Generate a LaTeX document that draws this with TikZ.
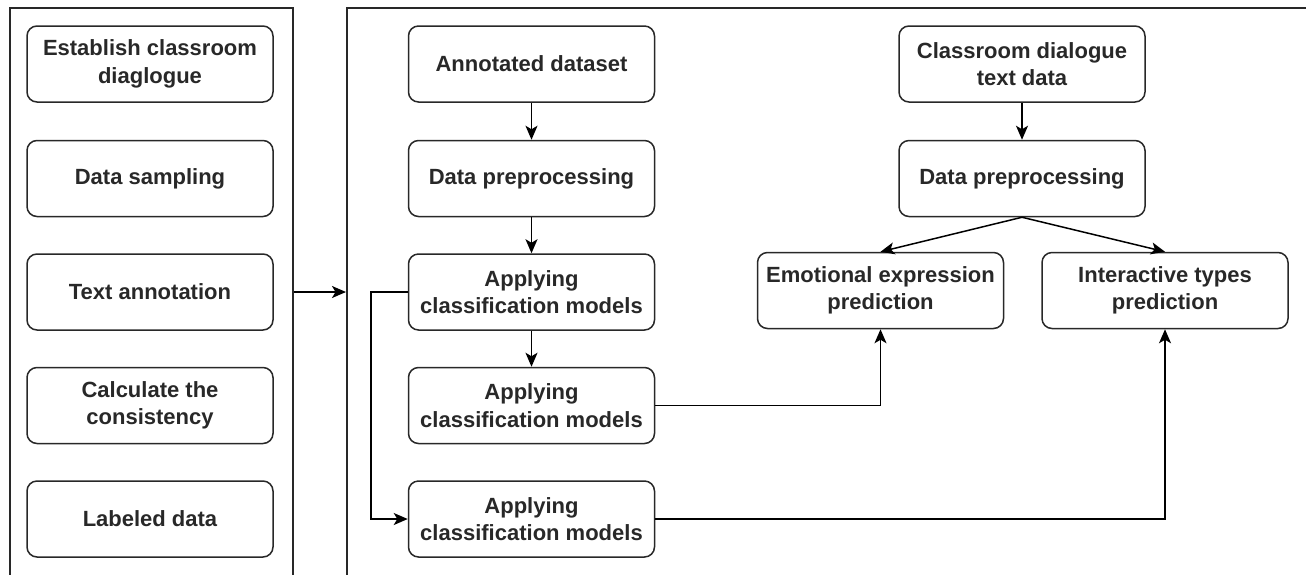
\documentclass[tikz,border=0pt]{standalone}
\usepackage{fontspec}
\setmainfont{Liberation Sans}
\usetikzlibrary{arrows.meta, positioning}

\definecolor{inkgray}{RGB}{40,40,40}
\hyphenpenalty=10000
\exhyphenpenalty=10000

\begin{document}
\begin{tikzpicture}[x=1pt, y=-1pt,
        step_box/.style = {
            rectangle,
            draw=inkgray,
            line width=1.5pt,
            rounded corners=10pt,
            text=inkgray,
            text width = 232pt,
            align = flush center,
            inner sep = 0pt,
            minimum width = 246pt,
            minimum height = 76pt,
            font = \fontsize{22}{27.5}\selectfont\bfseries
        },
        panel/.style = {
            rectangle,
            draw=inkgray,
            line width=1.5pt,
            anchor=north west,
            inner sep=0pt
        },
        arr/.style = {
            -{Stealth[length=14pt, width=12pt, inset=3.5pt]},
            line width=1.5pt,
            draw=black
        }]

        \useasboundingbox (0,0) rectangle (1306,574);

        % panels
        \node (left_panel) [panel, minimum width=283pt, minimum height=568pt] at (9,7) {};
        \node (right_panel) [panel, minimum width=970pt, minimum height=568pt] at (346,7) {};

        % annotation steps
        \node (establish) [step_box] at (150,64) {Establish classroom diaglogue};
        \node (sampling) [step_box, below=37pt of establish] {Data sampling};
        \node (annotation) [step_box, below=36pt of sampling] {Text annotation};
        \node (consistency) [step_box, below=36pt of annotation] {Calculate the consistency};
        \node (labeled) [step_box, below=36pt of consistency] {Labeled data};

        % training branch
        \node (annotated) [step_box] at (531.5,64) {Annotated dataset};
        \node (prep_train) [step_box, below=37pt of annotated] {Data preprocessing};
        \node (apply_a) [step_box, below=36pt of prep_train] {Applying classification models};
        \node (apply_b) [step_box, below=36pt of apply_a] {Applying classification models};
        \node (apply_c) [step_box, below=36pt of apply_b] {Applying classification models};

        % prediction branch
        \node (dialogue) [step_box] at (1022,64) {Classroom dialogue text data};
        \node (prep_pred) [step_box, below=37pt of dialogue] {Data preprocessing};
        \node (emotion) [step_box] at (880.5,290.5) {Emotional expression prediction};
        \node (interact) [step_box, right=37pt of emotion] {Interactive types prediction};

        \draw[arr] (left_panel.east |- apply_a) -- (right_panel.west |- apply_a);
        \draw[arr] (annotated) -- (prep_train);
        \draw[arr] (prep_train) -- (apply_a);
        \draw[arr] (apply_a) -- (apply_b);
        \draw[arr] (apply_a.west) -- ++(-37,0) |- (apply_c.west);
        \draw[arr] (dialogue) -- (prep_pred);
        \draw[arr] (prep_pred.south) -- (emotion.north);
        \draw[arr] (prep_pred.south) -- (interact.north);
        \draw[arr] (apply_b.east) -| (emotion.south);
        \draw[arr] (apply_c.east) -| (interact.south);
    \end{tikzpicture}
\end{document}
